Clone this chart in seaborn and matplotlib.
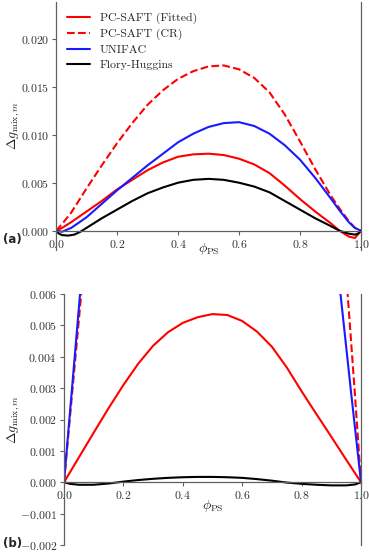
import seaborn as sns
import matplotlib.pyplot as plt
import matplotlib.ticker as mticker
import pandas as pd

# panel (a)
xa = [0, 0.02, 0.05, 0.1, 0.15, 0.2, 0.25, 0.3, 0.35, 0.4, 0.45, 0.5, 0.55,
      0.6, 0.65, 0.7, 0.75, 0.8, 0.85, 0.9, 0.93, 0.96, 0.98, 1.0]
fitted_a = [0, 0.0003, 0.0009, 0.0020, 0.0031, 0.0043, 0.0053, 0.0063, 0.0071,
            0.0077, 0.00795, 0.00802, 0.00788, 0.0075, 0.0069, 0.0060, 0.0047,
            0.0033, 0.0020, 0.0008, 0.0000, -0.0006, -0.00075, 0]
cr_a = [0, 0.0007, 0.0019, 0.0044, 0.0068, 0.0091, 0.0112, 0.0131, 0.0146,
        0.0158, 0.0166, 0.0171, 0.0172, 0.0168, 0.0159, 0.0144, 0.0121,
        0.0093, 0.0064, 0.0037, 0.0023, 0.0010, 0.0003, 0]
unifac_a = [0, -0.0001, 0.0003, 0.0014, 0.0028, 0.0042, 0.0055, 0.0068, 0.0080,
            0.0092, 0.0101, 0.0108, 0.0112, 0.0113, 0.0109, 0.0101, 0.0089,
            0.0074, 0.0055, 0.0034, 0.0021, 0.0009, 0.0003, 0]
xa_fh = [0, 0.01, 0.02, 0.04, 0.06, 0.08, 0.1, 0.15, 0.2, 0.25, 0.3, 0.35, 0.4,
         0.45, 0.5, 0.55, 0.6, 0.65, 0.7, 0.75, 0.8, 0.85, 0.9, 0.93, 0.96,
         0.98, 0.99, 1.0]
fh_a = [0, -0.0003, -0.00045, -0.0005, -0.0004, -0.0001, 0.0003, 0.0013, 0.0022,
        0.0031, 0.0039, 0.0045, 0.0050, 0.0053, 0.0054, 0.0053, 0.0050, 0.0046,
        0.0040, 0.0031, 0.0022, 0.0013, 0.0005, 0.0, -0.0003, -0.0004,
        -0.0003, 0]

# panel (b)
xb = [0, 0.05, 0.1, 0.15, 0.2, 0.25, 0.3, 0.35, 0.4, 0.45, 0.5, 0.55, 0.6,
      0.65, 0.7, 0.75, 0.8, 0.85, 0.9, 0.95, 1.0]
fitted_b = [0, 0.00079, 0.00158, 0.00236, 0.00310, 0.00378, 0.00435, 0.00478,
            0.00508, 0.00526, 0.00536, 0.00533, 0.00514, 0.00480, 0.00432,
            0.00366, 0.00290, 0.00217, 0.00145, 0.00072, 0]
xb_fh = [0, 0.02, 0.05, 0.1, 0.15, 0.2, 0.25, 0.3, 0.35, 0.4, 0.45, 0.5, 0.55,
         0.6, 0.65, 0.7, 0.75, 0.8, 0.85, 0.9, 0.95, 0.98, 1.0]
fh_b = [0, -0.00005, -0.00008, -0.00008, -0.00004, 0.00002, 0.00007, 0.00011,
        0.00014, 0.00016, 0.00017, 0.00017, 0.00016, 0.00014, 0.00010, 0.00005,
        -0.00001, -0.00005, -0.00008, -0.00010, -0.00010, -0.00007, 0]
# steep branches, only visible near the edges
x_cr_left = [0, 0.029, 0.058, 0.063]
cr_left = [0, 0.003, 0.006, 0.0065]
x_cr_right = [0.951, 0.955, 0.978, 1.0]
cr_right = [0.0065, 0.006, 0.003, 0]
x_uni_left = [0, 0.027, 0.054, 0.059]
uni_left = [0, 0.003, 0.006, 0.0066]
x_uni_right = [0.925, 0.931, 0.965, 1.0]
uni_right = [0.0065, 0.006, 0.003, 0]

models = ["PC-SAFT (Fitted)", "PC-SAFT (CR)", "UNIFAC", "Flory-Huggins"]
colors = {"PC-SAFT (Fitted)": "#ff0000", "PC-SAFT (CR)": "#ff0000",
          "UNIFAC": "#1a1aff", "Flory-Huggins": "black"}
dashes = {"PC-SAFT (Fitted)": "", "PC-SAFT (CR)": (3.7, 1.6),
          "UNIFAC": "", "Flory-Huggins": ""}


def frame(x, y, model, branch="all"):
    return pd.DataFrame({"phi": x, "dg": y, "model": model, "branch": branch})


df_a = pd.concat([frame(xa, fitted_a, models[0]), frame(xa, cr_a, models[1]),
                  frame(xa, unifac_a, models[2]), frame(xa_fh, fh_a, models[3])])
df_b = pd.concat([frame(xb, fitted_b, models[0]),
                  frame(x_cr_left, cr_left, models[1], "left"),
                  frame(x_cr_right, cr_right, models[1], "right"),
                  frame(x_uni_left, uni_left, models[2], "left"),
                  frame(x_uni_right, uni_right, models[2], "right"),
                  frame(xb_fh, fh_b, models[3])])

sns.set_style("ticks")
plt.rcParams["font.family"] = "serif"
plt.rcParams["font.serif"] = ["cmr10", "DejaVu Serif"]
plt.rcParams["mathtext.fontset"] = "cm"
plt.rcParams["axes.unicode_minus"] = False

fig = plt.figure(figsize=(3.69, 5.53), dpi=100)
W, H = 369, 553
ax_a = fig.add_axes([56 / W, 1 - 250 / H, 305 / W, 248 / H])
ax_b = fig.add_axes([64 / W, 1 - 545 / H, 297 / W, 251 / H])

spine_c = "#606060"


def style_axes(ax, ylim, yticks, xlab_y, ylab_x):
    ax.set_xlim(0, 1)
    ax.set_ylim(*ylim)
    ax.set_xticks([0, 0.2, 0.4, 0.6, 0.8, 1.0])
    ax.set_yticks(yticks)
    ax.xaxis.set_major_formatter(mticker.FuncFormatter(lambda v, p: r"$%.1f$" % v))
    ax.yaxis.set_major_formatter(mticker.FuncFormatter(
        lambda v, p: r"$%.3f$" % (0 if abs(v) < 1e-12 else v)))
    ax.spines["top"].set_visible(False)
    ax.spines["bottom"].set_position(("data", 0))
    ax.spines["left"].set_position(("data", 0))
    ax.spines["right"].set_position(("data", 1))
    for s in ax.spines.values():
        s.set_color(spine_c)
        s.set_linewidth(0.9)
    ax.tick_params(axis="both", direction="out", length=3, width=0.8,
                   color=spine_c, labelsize=8.5, labelcolor="#333333", pad=2)
    ax.tick_params(axis="y", right=False)
    ax.set_xlabel(r"$\phi_{\mathrm{PS}}$", fontsize=10)
    ax.set_ylabel(r"$\Delta g_{\mathrm{mix},m}$", fontsize=10)
    ax.xaxis.set_label_coords(0.5, xlab_y)
    ax.yaxis.set_label_coords(ylab_x, 0.5)


sns.lineplot(data=df_a, x="phi", y="dg", hue="model", style="model",
             hue_order=models, style_order=models, palette=colors,
             dashes=dashes, linewidth=1.5, estimator=None, sort=True, ax=ax_a)
sns.lineplot(data=df_b, x="phi", y="dg", hue="model", style="model",
             units="branch", hue_order=models, style_order=models,
             palette=colors, dashes=dashes, linewidth=1.5, estimator=None,
             legend=False, ax=ax_b)

style_axes(ax_a, (-0.002, 0.0238), [0, 0.005, 0.010, 0.015, 0.020],
           0.036, -0.112)
style_axes(ax_b, (-0.002, 0.006), [-0.002, -0.001, 0, 0.001, 0.002, 0.003,
                                   0.004, 0.005, 0.006], 0.187, -0.14)

handles, labels = ax_a.get_legend_handles_labels()
ax_a.legend(handles, labels, loc="upper left", frameon=False, fontsize=8.5,
            labelspacing=0.4, handlelength=2.0, handletextpad=0.8)

fig.text(3 / W, 1 - 240 / H, "(a)", family="DejaVu Sans", weight="bold",
         fontsize=8.5, va="center")
fig.text(3 / W, 1 - 543 / H, "(b)", family="DejaVu Sans", weight="bold",
         fontsize=8.5, va="center")

fig.savefig("out.png", dpi=100)
